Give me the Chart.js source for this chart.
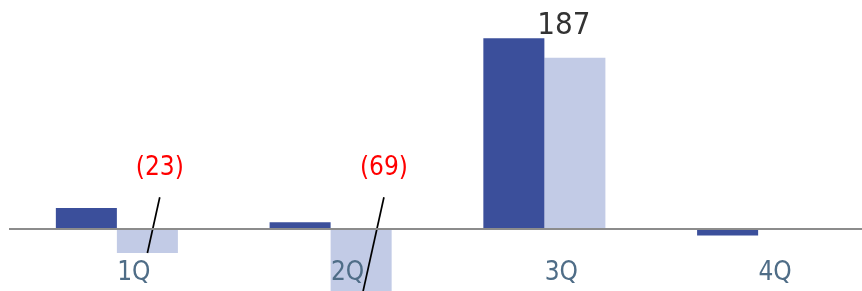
<!DOCTYPE html>
<html>
<head>
<meta charset="utf-8">
<script src="https://cdn.jsdelivr.net/npm/chart.js@4/dist/chart.umd.min.js"></script>
<style>
  html, body { margin: 0; padding: 0; background: #fff; overflow: hidden; }
  #chart { display: block; }
</style>
</head>
<body>
<canvas id="chart" width="865" height="291"></canvas>
<script>
const categories = ['1Q', '2Q', '3Q', '4Q'];
const currentYear = [21, 7, 187, -6];
const priorYear = [-23, -69, 168, 0];

const dark = 'rgb(59, 79, 155)';
const light = 'rgb(194, 203, 230)';
const fontName = '"DejaVu Sans Condensed", "DejaVu Sans", sans-serif';

// Etiquetas con línea guía para barras negativas y valor destacado
const labelPlugin = {
    id: 'labelPlugin',
    afterDatasetsDraw(chart) {
        const ctx = chart.ctx;
        const y = chart.scales.y;

        // valor máximo encima de la barra oscura
        const metaCur = chart.getDatasetMeta(0);
        const maxIdx = currentYear.indexOf(Math.max(...currentYear));
        const top = metaCur.data[maxIdx];
        ctx.save();
        ctx.font = '31px ' + fontName;
        ctx.fillStyle = '#333';
        ctx.textAlign = 'center';
        ctx.textBaseline = 'alphabetic';
        ctx.fillText(String(currentYear[maxIdx]), top.x + 50, top.y - 4);
        ctx.restore();

        // negativos del año anterior
        const metaPrior = chart.getDatasetMeta(1);
        const lineTop = y.getPixelForValue(31.5);
        const textBottom = y.getPixelForValue(48);
        priorYear.forEach((v, i) => {
            if (v >= 0) return;
            const bar = metaPrior.data[i];
            const topX = bar.x + 0.222 * (bar.y - lineTop);
            ctx.save();
            ctx.strokeStyle = '#000';
            ctx.lineWidth = 1.7;
            ctx.beginPath();
            ctx.moveTo(topX, lineTop);
            ctx.lineTo(bar.x, bar.y);
            ctx.stroke();
            ctx.font = '26px ' + fontName;
            ctx.fillStyle = '#ff0000';
            ctx.textAlign = 'center';
            ctx.textBaseline = 'alphabetic';
            ctx.fillText('(' + Math.abs(v) + ')', topX, textBottom - 5);
            ctx.restore();
        });
    }
};

const ctx = document.getElementById('chart').getContext('2d');
new Chart(ctx, {
    type: 'bar',
    data: {
        labels: categories,
        datasets: [
            { data: currentYear, backgroundColor: dark },
            { data: priorYear, backgroundColor: light }
        ]
    },
    options: {
        responsive: false,
        animation: false,
        devicePixelRatio: 1,
        layout: { padding: { left: 10, right: 0, top: 0, bottom: 0 } },
        datasets: {
            bar: { categoryPercentage: 0.571, barPercentage: 1.0, borderWidth: 0 }
        },
        plugins: {
            legend: { display: false },
            tooltip: { enabled: false }
        },
        scales: {
            x: {
                position: { y: 0 },
                grid: { display: false },
                border: { display: true, color: '#8c8c8c', width: 2, z: 1 },
                ticks: {
                    z: 1,
                    color: '#4f6d87',
                    font: { family: fontName, size: 26 },
                    padding: 20,
                    labelOffset: 17,
                    autoSkip: false,
                    maxRotation: 0,
                    minRotation: 0
                }
            },
            y: {
                display: false,
                min: -60.2,
                max: 224.5
            }
        }
    },
    plugins: [labelPlugin]
});
</script>
</body>
</html>
